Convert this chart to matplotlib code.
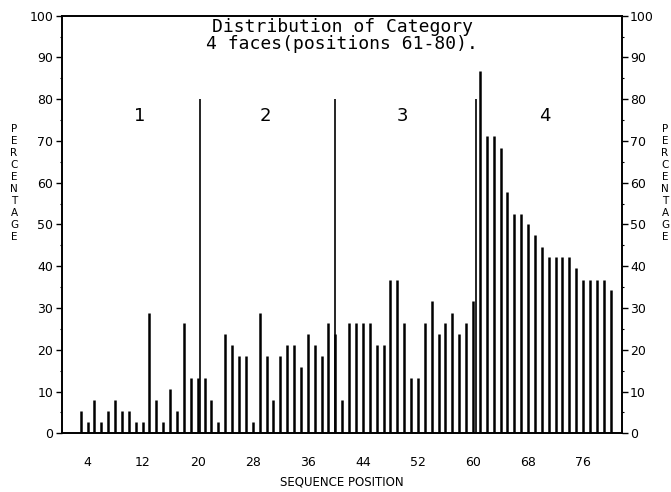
import matplotlib
matplotlib.use("Agg")
import matplotlib.pyplot as plt
import numpy as np

# sequence positions 1..80 and percentage of category-4 faces at each
positions = np.arange(1, 81)
percent = [0, 0, 5.3, 2.6, 7.9, 2.6, 5.3, 7.9, 5.3, 5.3,
           2.6, 2.6, 28.9, 7.9, 2.6, 10.5, 5.3, 26.3, 13.2, 13.2,
           13.2, 7.9, 2.6, 23.7, 21.1, 18.4, 18.4, 2.6, 28.9, 18.4,
           7.9, 18.4, 21.1, 21.1, 15.8, 23.7, 21.1, 18.4, 26.3, 23.7,
           7.9, 26.3, 26.3, 26.3, 26.3, 21.1, 21.1, 36.8, 36.8, 26.3,
           13.2, 13.2, 26.3, 31.6, 23.7, 26.3, 28.9, 23.7, 26.3, 31.6,
           86.8, 71.1, 71.1, 68.4, 57.9, 52.6, 52.6, 50.0, 47.4, 44.7,
           42.1, 42.1, 42.1, 42.1, 39.5, 36.8, 36.8, 36.8, 36.8, 34.2]

x_ticks = [4, 12, 20, 28, 36, 44, 52, 60, 68, 76]
y_ticks = list(range(0, 101, 10))

# region dividers and the region numbers written above them
dividers = [20.3, 39.9, 60.5]
divider_top = 80
region_names = ["1", "2", "3", "4"]
region_x = [11.6, 29.9, 49.7, 70.5]
region_y = 76

title_lines = ["Distribution of Category", "4 faces(positions 61-80)."]

fig = plt.figure(figsize=(6.71, 4.92), dpi=100)
ax = fig.add_axes([0.092, 0.1193, 0.8345, 0.8488])

# thin plotter-style bars, drawn as fixed-width strokes
ax.vlines(positions, 0, percent, color="black", linewidth=1.8)
ax.vlines(dividers, 0, divider_top, color="black", linewidth=1.2)

for name, rx in zip(region_names, region_x):
    ax.text(rx, region_y, name, ha="center", va="center", fontsize=13)

ax.text(41, 97.4, title_lines[0], ha="center", va="center",
        family="DejaVu Sans Mono", fontsize=13)
ax.text(41, 93.2, title_lines[1], ha="center", va="center",
        family="DejaVu Sans Mono", fontsize=13)

ax.set_xlim(0.25, 81.6)
ax.set_ylim(0, 100)
ax.set_xticks(x_ticks)
ax.set_yticks(y_ticks)
ax.set_yticks(np.arange(0, 101, 5), minor=True)
ax.tick_params(axis="x", length=0, pad=16, labelsize=9)
ax.tick_params(axis="y", which="major", left=True, right=True,
               labelleft=True, labelright=True, direction="out",
               length=4, width=1, pad=2, labelsize=9)
ax.tick_params(axis="y", which="minor", left=True, right=True,
               direction="out", length=1.5, width=0.8)

for sp in ax.spines.values():
    sp.set_linewidth(1.4)

ax.set_xlabel("SEQUENCE POSITION", fontsize=8.5, labelpad=5)

stacked = "\n".join("PERCENTAGE")
fig.text(14 / 671, 1 - 183 / 492, stacked, ha="center", va="center",
         fontsize=7.5, linespacing=1.25)
fig.text(665 / 671, 1 - 183 / 492, stacked, ha="center", va="center",
         fontsize=7.5, linespacing=1.25)

fig.savefig("out.png", dpi=100)
